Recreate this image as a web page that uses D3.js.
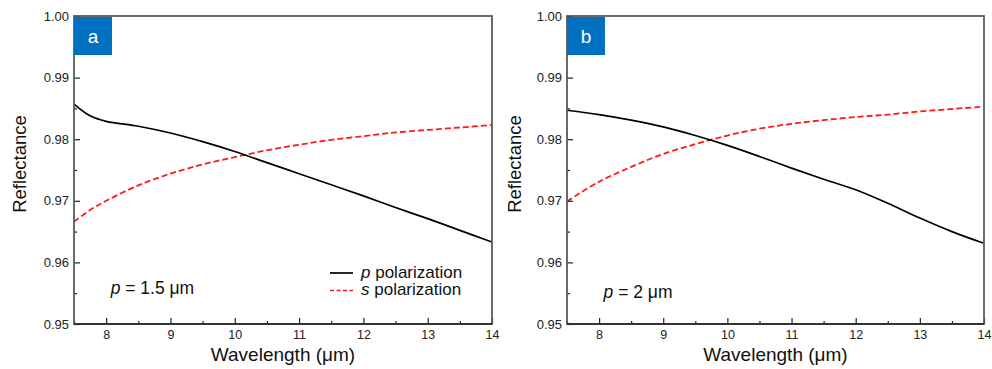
<!DOCTYPE html>
<html><head><meta charset="utf-8">
<script src="https://cdn.jsdelivr.net/npm/d3@7"></script>
<style>
html,body{margin:0;padding:0;background:#fff;}
svg{display:block;font-family:"Liberation Sans",Arial,sans-serif;}
</style></head>
<body>
<svg id="chart" width="992" height="369"></svg>
<script>
// ---- data ----
const wavelengthA = [7.5, 7.75, 8.0, 8.5, 9.0, 9.5, 10.0, 10.5, 11.0, 11.5, 12.0, 12.5, 13.0, 13.5, 14.0];
const pPolA = [0.9857, 0.9838, 0.9829, 0.9821, 0.9810, 0.9796, 0.9780, 0.9762, 0.9744, 0.9726, 0.9708, 0.9689, 0.9671, 0.9652, 0.9633];
const sPolA = [0.9666, 0.9685, 0.9700, 0.9725, 0.9744, 0.9759, 0.9771, 0.9782, 0.9791, 0.9799, 0.9805, 0.9811, 0.9815, 0.9819, 0.9823];
const wavelengthB = [7.5, 8.0, 8.5, 9.0, 9.5, 10.0, 10.5, 11.0, 11.5, 12.0, 12.5, 13.0, 13.5, 14.0];
const pPolB = [0.9847, 0.9840, 0.9831, 0.9820, 0.9806, 0.9790, 0.9772, 0.9753, 0.9735, 0.9718, 0.9696, 0.9672, 0.9650, 0.9631];
const sPolB = [0.9699, 0.9731, 0.9755, 0.9776, 0.9792, 0.9806, 0.9817, 0.9825, 0.9831, 0.9836, 0.9840, 0.9845, 0.9849, 0.9853];
const xTicks = [8, 9, 10, 11, 12, 13, 14];
const xMinorTicks = [7.5, 8.5, 9.5, 10.5, 11.5, 12.5, 13.5];
const yTicks = [0.95, 0.96, 0.97, 0.98, 0.99, 1.00];
const yMinorTicks = [0.955, 0.965, 0.975, 0.985, 0.995];
const panelLetters = ["a", "b"];
const periodLabels = ["1.5 μm", "2 μm"];
const legendLabels = [["p", " polarization"], ["s", " polarization"]];

const svg = d3.select("#chart");
const panels = [
  {left: 74, right: 492, top: 16, bottom: 324, xs: wavelengthA, p: pPolA, s: sPolA, letter: panelLetters[0], period: periodLabels[0], annY: 294, legend: true, ylabX: 26},
  {left: 567, right: 984, top: 16, bottom: 324, xs: wavelengthB, p: pPolB, s: sPolB, letter: panelLetters[1], period: periodLabels[1], annY: 298, legend: false, ylabX: 521}
];

panels.forEach((P, i) => {
  const x = d3.scaleLinear().domain([7.5, 14]).range([P.left, P.right]);
  const y = d3.scaleLinear().domain([0.95, 1.00]).range([P.bottom, P.top]);
  const g = svg.append("g");
  const clipId = "clip" + i;
  svg.append("clipPath").attr("id", clipId).append("rect")
    .attr("x", P.left).attr("y", P.top).attr("width", P.right - P.left).attr("height", P.bottom - P.top);

  // curves
  const line = d3.line().x(d => x(d[0])).y(d => y(d[1])).curve(d3.curveCatmullRom.alpha(0.5));
  g.append("path").datum(P.xs.map((v, k) => [v, P.s[k]]))
    .attr("d", line).attr("fill", "none").attr("stroke", "#ff1a1a")
    .attr("stroke-width", 1.8).attr("stroke-dasharray", "6,3").attr("clip-path", `url(#${clipId})`);
  g.append("path").datum(P.xs.map((v, k) => [v, P.p[k]]))
    .attr("d", line).attr("fill", "none").attr("stroke", "#000")
    .attr("stroke-width", 1.7).attr("clip-path", `url(#${clipId})`);

  // axes (inward ticks)
  const xAxis = d3.axisBottom(x).tickValues(xTicks).tickSize(-6).tickPadding(6).tickFormat(d3.format("d"));
  const gx = g.append("g").attr("transform", `translate(0,${P.bottom})`).call(xAxis);
  gx.select(".domain").remove();
  gx.selectAll(".tick line").attr("stroke", "#222").attr("stroke-width", 1.2);
  gx.selectAll(".tick text").attr("font-size", 12.5).attr("fill", "#222").attr("font-family", "Liberation Sans, Arial, sans-serif");
  const gxm = g.append("g").attr("transform", `translate(0,${P.bottom})`)
    .call(d3.axisBottom(x).tickValues(xMinorTicks).tickSize(-3).tickFormat(""));
  gxm.select(".domain").remove();
  gxm.selectAll(".tick line").attr("stroke", "#222").attr("stroke-width", 1.2);

  const yAxis = d3.axisLeft(y).tickValues(yTicks).tickSize(-6).tickPadding(5).tickFormat(d3.format(".2f"));
  const gy = g.append("g").attr("transform", `translate(${P.left},0)`).call(yAxis);
  gy.select(".domain").remove();
  gy.selectAll(".tick line").attr("stroke", "#222").attr("stroke-width", 1.2);
  gy.selectAll(".tick text").attr("font-size", 13).attr("fill", "#222").attr("font-family", "Liberation Sans, Arial, sans-serif");
  const gym = g.append("g").attr("transform", `translate(${P.left},0)`)
    .call(d3.axisLeft(y).tickValues(yMinorTicks).tickSize(-3).tickFormat(""));
  gym.select(".domain").remove();
  gym.selectAll(".tick line").attr("stroke", "#222").attr("stroke-width", 1.2);

  // frame
  g.append("rect").attr("x", P.left).attr("y", P.top)
    .attr("width", P.right - P.left).attr("height", P.bottom - P.top)
    .attr("fill", "none").attr("stroke", "#5a5a5a").attr("stroke-width", 1.8);
  g.append("line").attr("x1", P.left).attr("x2", P.right).attr("y1", P.bottom).attr("y2", P.bottom)
    .attr("stroke", "#222").attr("stroke-width", 1.6);

  // panel letter box
  g.append("rect").attr("x", P.left).attr("y", P.top + 1).attr("width", 38).attr("height", 38).attr("fill", "#0070c0");
  g.append("text").attr("x", P.left + 19).attr("y", P.top + 27).attr("text-anchor", "middle")
    .attr("font-size", 19).attr("fill", "#fff").text(P.letter);

  // axis titles
  g.append("text").attr("x", (P.left + P.right) / 2).attr("y", 361).attr("text-anchor", "middle")
    .attr("font-size", 19).attr("fill", "#111").text("Wavelength (μm)");
  g.append("text").attr("transform", `translate(${P.ylabX},${164}) rotate(-90)`).attr("text-anchor", "middle")
    .attr("font-size", 18.5).attr("fill", "#111").text("Reflectance");

  // period annotation
  const ann = g.append("text").attr("x", x(8.07)).attr("y", P.annY).attr("font-size", 17.5).attr("fill", "#111");
  ann.append("tspan").attr("font-style", "italic").text("p");
  ann.append("tspan").text(" = " + P.period);

  // legend
  if (P.legend) {
    const lx = 330, ly = [273, 290.5];
    legendLabels.forEach((lab, k) => {
      g.append("line").attr("x1", lx).attr("x2", lx + 23).attr("y1", ly[k]).attr("y2", ly[k])
        .attr("stroke", k === 0 ? "#000" : "#ff1a1a").attr("stroke-width", 1.7)
        .attr("stroke-dasharray", k === 0 ? null : "4,2.5");
      const t = g.append("text").attr("x", lx + 31).attr("y", ly[k] + 4.5).attr("font-size", 17).attr("fill", "#111");
      t.append("tspan").attr("font-style", "italic").text(lab[0]);
      t.append("tspan").text(lab[1]);
    });
  }
});
</script>
</body></html>
